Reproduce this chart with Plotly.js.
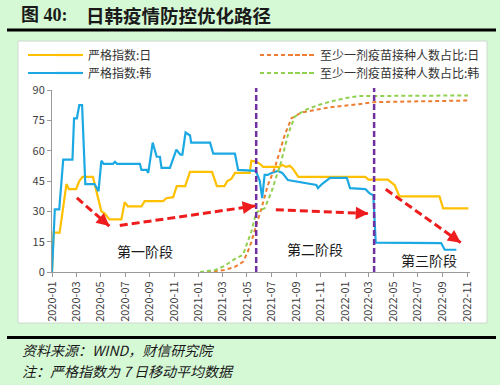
<!DOCTYPE html>
<html><head><meta charset="utf-8">
<script src="https://cdn.plot.ly/plotly-3.0.1.min.js"></script>
<style>html,body{margin:0;padding:0;background:#d5f9d5;}#chart{width:500px;height:385px;}</style>
</head><body><div id="chart"></div>
<script>
// ---- Data ----
const jpStrictDates = ['2020-01-01','2020-01-05','2020-01-20','2020-02-06','2020-02-12','2020-03-01','2020-03-09','2020-03-17','2020-04-12','2020-05-03','2020-05-11','2020-05-23','2020-06-22','2020-06-30','2020-07-08','2020-08-11','2020-08-19','2020-10-04','2020-10-12','2020-10-29','2020-11-07','2020-11-28','2020-12-10','2021-02-03','2021-02-15','2021-03-06','2021-03-13','2021-03-23','2021-04-01','2021-05-08','2021-05-12','2021-05-24','2021-06-02','2021-06-10','2021-07-21','2021-07-28','2021-08-06','2021-08-16','2021-08-24','2021-09-06','2022-02-20','2022-02-28','2022-04-17','2022-05-04','2022-05-16','2022-08-24','2022-09-02','2022-11-04'];
const jpStrictValues = [0,19.5,19.5,43.5,41,41,45,47,47,30,29,26,26,34.5,32.5,32.5,35,35,36.5,37,42.5,42.5,49.5,49.5,42.5,42.5,45,46,49,49,55,54.5,53.5,52,52,53,52,52.5,51,47,47,45.7,45.7,43,37.4,37.4,31.5,31.5];

const krStrictDates = ['2020-01-01','2020-01-08','2020-01-19','2020-01-29','2020-02-21','2020-02-25','2020-03-03','2020-03-09','2020-03-16','2020-03-24','2020-04-16','2020-04-26','2020-05-03','2020-05-09','2020-06-01','2020-06-06','2020-06-11','2020-08-07','2020-08-11','2020-08-24','2020-08-28','2020-09-08','2020-09-18','2020-09-26','2020-09-30','2020-10-21','2020-11-06','2020-11-16','2020-11-21','2020-11-29','2020-12-10','2020-12-13','2021-01-29','2021-02-06','2021-04-01','2021-04-09','2021-05-23','2021-06-02','2021-06-08','2021-06-14','2021-06-22','2021-07-01','2021-07-17','2021-07-28','2021-08-11','2021-09-10','2021-10-21','2021-10-25','2021-11-04','2021-11-24','2022-01-05','2022-01-13','2022-02-20','2022-03-02','2022-03-12','2022-03-18','2022-08-28','2022-09-06','2022-10-05'];
const krStrictValues = [0,31,31,55.6,55.6,76,76,82.5,82.5,43.5,43.5,40,55,53.5,53.5,54.5,53.5,53.5,50.5,50.5,49,64,57,57,51.5,51.5,60.5,58,58,69,67.5,64,64,58.5,58.5,50.5,50,45,36.5,48,48,49,50,49,45.5,44.5,43,41.5,43.5,46.5,46.5,41.5,41,39,38,14.5,14.3,11,11];

const jpVaccDates = ['2021-01-21','2021-03-06','2021-04-01','2021-04-21','2021-05-02','2021-05-12','2021-05-24','2021-06-06','2021-06-22','2021-07-09','2021-08-03','2021-08-20','2021-09-14','2021-10-25','2021-11-24','2022-02-03','2022-03-14','2022-11-03'];
const jpVaccValues = [0,1,2.5,5,9.5,14.8,23,31.3,42.9,51.2,67.7,76,78.9,80.6,81.5,83,84,84.8];

const krVaccDates = ['2021-01-04','2021-02-11','2021-03-06','2021-04-01','2021-04-21','2021-05-02','2021-05-12','2021-05-24','2021-06-02','2021-06-14','2021-07-01','2021-07-25','2021-08-11','2021-08-28','2021-09-22','2021-10-25','2021-11-24','2022-01-01','2022-02-03','2022-11-03'];
const krVaccValues = [0,1,3,6.5,8.5,14,20,29.5,30.5,31.5,39.6,54.4,67.7,76.8,80,82.5,84.2,86,87,87.3];

const seriesNames = ['严格指数:日','严格指数:韩','至少一剂疫苗接种人数占比:日','至少一剂疫苗接种人数占比:韩'];
const phaseDates = ['2021-05-24','2022-03-14'];
const phaseLabels = ['第一阶段','第二阶段','第三阶段'];
// trend arrows: [startDate, startVal, endDate, endVal]
const trendArrows = [
  ['2020-03-03',36.6,'2020-05-23',22.7],
  ['2020-06-18',23.0,'2021-05-22',32.7],
  ['2021-07-12',30.8,'2022-02-28',28.9],
  ['2022-04-12',40.9,'2022-10-16',14.5]
];
const yTicks = [0,15,30,45,60,75,90];

// ---- Layout helpers (pixel -> paper) ----
const L=52, R=30, T=90, B=113, W=500, H=385;
const pw = W-L-R, ph = H-T-B;
const px = x => (x-L)/pw;
const py = y => (H-B-y)/ph;

const FONT = '"Noto Sans CJK SC", "Noto Sans", sans-serif';
const COLORS = ['#FFC000','#1CA9E3','#ED7D31','#92D050'];

const traces = [
  {x: jpStrictDates, y: jpStrictValues, name: seriesNames[0], type:'scatter', mode:'lines',
   line:{color:COLORS[0], width:2.2}, legend:'legend'},
  {x: krStrictDates, y: krStrictValues, name: seriesNames[1], type:'scatter', mode:'lines',
   line:{color:COLORS[1], width:2.2}, legend:'legend2'},
  {x: jpVaccDates, y: jpVaccValues, name: seriesNames[2], type:'scatter', mode:'lines',
   line:{color:COLORS[2], width:2, dash:'4px,3px'}, legend:'legend3'},
  {x: krVaccDates, y: krVaccValues, name: seriesNames[3], type:'scatter', mode:'lines',
   line:{color:COLORS[3], width:2, dash:'4px,3px'}, legend:'legend4'}
];

const shapes = [
  {type:'rect', xref:'paper', yref:'paper', x0:px(18), x1:px(487), y0:py(323), y1:py(41),
   fillcolor:'#ffffff', line:{color:'#cfd8cf', width:1}, layer:'below'},
  {type:'line', xref:'paper', yref:'paper', x0:px(7), x1:px(496), y0:py(30), y1:py(30),
   line:{color:'#000', width:3}},
  {type:'line', xref:'paper', yref:'paper', x0:px(7), x1:px(496), y0:py(337.5), y1:py(337.5),
   line:{color:'#000', width:3}},
  // longer legend key lines (extend the library's short samples)
  {type:'line', xref:'paper', yref:'paper', x0:px(56), x1:px(82), y0:py(55), y1:py(55),
   line:{color:COLORS[0], width:2.2}},
  {type:'line', xref:'paper', yref:'paper', x0:px(56), x1:px(82), y0:py(73), y1:py(73),
   line:{color:COLORS[1], width:2.2}},
  {type:'line', xref:'paper', yref:'paper', x0:px(289), x1:px(315), y0:py(55), y1:py(55),
   line:{color:COLORS[2], width:2, dash:'4px,3px'}},
  {type:'line', xref:'paper', yref:'paper', x0:px(289), x1:px(315), y0:py(73), y1:py(73),
   line:{color:COLORS[3], width:2, dash:'4px,3px'}}
];
phaseDates.forEach(d => shapes.push({type:'line', xref:'x', yref:'paper', x0:d, x1:d, y0:0, y1:py(88),
  line:{color:'#7030A0', width:2.5, dash:'6px,3px'}}));
trendArrows.forEach(a => shapes.push({type:'line', xref:'x', yref:'y', x0:a[0], y0:a[1], x1:a[2], y1:a[3],
  line:{color:'#EE1C1C', width:3, dash:'8px,4px'}}));

const headDirs = [[-7.6,-6.5],[-9.9,1.4],[-10,-0.4],[-8.1,-5.8]];
const labelFont = {family:FONT, size:14, color:'#1a1a1a'};
const annotations = [
  {text:'<b>图 40:</b>', xref:'paper', yref:'paper', x:px(19), y:py(15),
   xanchor:'left', yanchor:'middle', showarrow:false, font:{family:'"Liberation Serif", "Noto Sans CJK SC", serif', size:18, color:'#1a1a1a'}},
  {text:'<b>日韩疫情防控优化路径</b>', xref:'paper', yref:'paper', x:px(84), y:py(15),
   xanchor:'left', yanchor:'middle', showarrow:false, font:{family:FONT, size:18.5, color:'#1a1a1a'}},
  {text:'资料来源：WIND，财信研究院', xref:'paper', yref:'paper', x:px(20), y:py(350),
   xanchor:'left', yanchor:'middle', showarrow:false, font:{family:FONT, size:14, color:'#1a1a1a', style:'italic'}},
  {text:'注：严格指数为 7 日移动平均数据', xref:'paper', yref:'paper', x:px(20), y:py(371),
   xanchor:'left', yanchor:'middle', showarrow:false, font:{family:FONT, size:14, color:'#1a1a1a', style:'italic'}},
  {text:phaseLabels[0], xref:'paper', yref:'paper', x:px(145), y:py(251), xanchor:'center', yanchor:'middle',
   showarrow:false, font:labelFont},
  {text:phaseLabels[1], xref:'paper', yref:'paper', x:px(315), y:py(249), xanchor:'center', yanchor:'middle',
   showarrow:false, font:labelFont},
  {text:phaseLabels[2], xref:'paper', yref:'paper', x:px(429), y:py(260), xanchor:'center', yanchor:'middle',
   showarrow:false, font:labelFont}
];
trendArrows.forEach((a,i) => annotations.push({x:a[2], y:a[3], xref:'x', yref:'y', text:'', showarrow:true,
  ax:headDirs[i][0], ay:headDirs[i][1], arrowhead:2, arrowsize:0.85, arrowwidth:3, arrowcolor:'#EE1C1C', standoff:0}));

function leg(xp, yp){
  return {x:px(xp), y:py(yp), xanchor:'left', yanchor:'middle', bgcolor:'rgba(0,0,0,0)',
    font:{family:FONT, size:12, color:'#333'}, tracegroupgap:0, itemwidth:55};
}

const layout = {
  width: W, height: H,
  margin:{l:L, r:R, t:T, b:B},
  paper_bgcolor:'#d5f9d5', plot_bgcolor:'rgba(0,0,0,0)',
  font:{family:FONT, size:11, color:'#404040'},
  showlegend:true,
  legend: leg(23, 55),
  legend2: leg(23, 73),
  legend3: leg(255, 55),
  legend4: leg(255, 73),
  xaxis:{type:'date', range:['2020-01-01','2022-11-08'], tick0:'2020-01-01', dtick:'M2',
    tickformat:'%Y-%m', tickangle:-90, ticks:'outside', ticklen:4, tickcolor:'#999',
    showline:true, linecolor:'#999', linewidth:1, showgrid:false, zeroline:false,
    tickfont:{family:FONT, size:11, color:'#404040'}},
  yaxis:{range:[0,90], tickvals:yTicks, ticks:'outside', ticklen:4, tickcolor:'#999',
    showline:true, linecolor:'#999', linewidth:1, showgrid:false, zeroline:false,
    tickfont:{family:FONT, size:11, color:'#404040'}},
  shapes: shapes,
  annotations: annotations
};

Plotly.newPlot('chart', traces, layout, {staticPlot:true, displayModeBar:false});
</script>
</body></html>
